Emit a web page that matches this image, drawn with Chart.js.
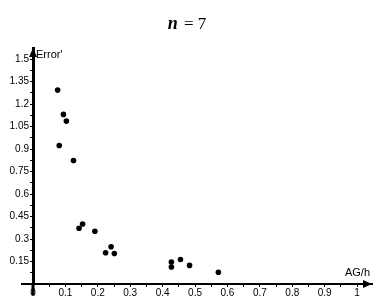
<!DOCTYPE html>
<html>
<head>
<meta charset="utf-8">
<script src="https://cdn.jsdelivr.net/npm/chart.js@4"></script>
<style>
  html, body { margin: 0; padding: 0; background: #fff; }
</style>
</head>
<body>
<canvas id="myChart" width="382" height="307"></canvas>
<script>
// valores
var agh  = [0.076, 0.094, 0.103, 0.081, 0.125, 0.142, 0.153, 0.191, 0.224, 0.241, 0.251, 0.427, 0.427, 0.455, 0.483, 0.572]
var erro = [1.294, 1.132, 1.087, 0.924, 0.824, 0.372, 0.400, 0.352, 0.209, 0.249, 0.203, 0.146, 0.113, 0.164, 0.124, 0.078]

var xTicks = [0, 0.05, 0.1, 0.15, 0.2, 0.25, 0.3, 0.35, 0.4, 0.45, 0.5, 0.55, 0.6, 0.65, 0.7, 0.75, 0.8, 0.85, 0.9, 0.95, 1]
var xTickLabels = ['0', '', '0.1', '', '0.2', '', '0.3', '', '0.4', '', '0.5', '', '0.6', '', '0.7', '', '0.8', '', '0.9', '', '1']
var yTicks = [0.075, 0.15, 0.225, 0.3, 0.375, 0.45, 0.525, 0.6, 0.675, 0.75, 0.825, 0.9, 0.975, 1.05, 1.125, 1.2, 1.275, 1.35, 1.425, 1.5]
var yTickLabels = ['', '0.15', '', '0.3', '', '0.45', '', '0.6', '', '0.75', '', '0.9', '', '1.05', '', '1.2', '', '1.35', '', '1.5']

var pontos = []
for (var i = 0; i < agh.length; i++) {
    pontos.push({ x: agh[i], y: erro[i] })
}

var fonteTick = { family: 'Liberation Sans', size: 10 }

// setas, extensoes dos eixos, rotulos e titulo
var eixos = {
    id: 'eixos',
    afterDraw: function (chart) {
        var ctx = chart.ctx
        var sx = chart.scales.x
        var sy = chart.scales.y
        var x0 = sx.getPixelForValue(0)
        var y0 = sy.getPixelForValue(0)
        var topo = sy.getPixelForValue(sy.max)
        var dir = sx.getPixelForValue(sx.max)
        ctx.save()
        ctx.strokeStyle = '#000'
        ctx.fillStyle = '#000'
        // extensoes alem da origem
        ctx.lineWidth = 2
        ctx.beginPath()
        ctx.moveTo(x0 - 12, y0)
        ctx.lineTo(x0, y0)
        ctx.stroke()
        ctx.lineWidth = 3
        ctx.beginPath()
        ctx.moveTo(x0, y0)
        ctx.lineTo(x0, y0 + 11)
        ctx.stroke()
        // setas
        ctx.beginPath()
        ctx.moveTo(x0, topo)
        ctx.lineTo(x0 - 4, topo + 9)
        ctx.lineTo(x0 + 4, topo + 9)
        ctx.closePath()
        ctx.fill()
        ctx.beginPath()
        ctx.moveTo(dir, y0)
        ctx.lineTo(dir - 9, y0 - 4)
        ctx.lineTo(dir - 9, y0 + 4)
        ctx.closePath()
        ctx.fill()
        // nomes dos eixos
        ctx.font = '11px "Liberation Sans"'
        ctx.textBaseline = 'middle'
        ctx.textAlign = 'left'
        ctx.fillText("Error'", x0 + 3, topo + 7)
        ctx.textAlign = 'right'
        ctx.fillText('AG/h', dir - 2, y0 - 11)
        // titulo
        ctx.textBaseline = 'alphabetic'
        ctx.textAlign = 'left'
        ctx.font = 'italic bold 18px "Liberation Serif"'
        var wn = ctx.measureText('n').width
        ctx.font = '17px "Liberation Serif"'
        var resto = ' = 7'
        var wr = ctx.measureText(resto).width
        var inicio = 186 - (wn + wr) / 2
        ctx.font = 'italic bold 18px "Liberation Serif"'
        ctx.fillText('n', inicio, 29)
        ctx.font = '17px "Liberation Serif"'
        ctx.fillText(resto, inicio + wn + 2, 29)
        ctx.restore()
    }
}

function plotarGrafico() {
    var ctx = document.getElementById('myChart')
    new Chart(ctx, {
        type: 'scatter',
        data: {
            datasets: [{
                data: pontos,
                backgroundColor: '#000',
                borderColor: '#000',
                pointStyle: 'circle',
                pointRadius: 2.8,
                borderWidth: 0
            }]
        },
        options: {
            responsive: false,
            animation: false,
            devicePixelRatio: 1,
            layout: { padding: { top: 48, right: 10, left: 0, bottom: 0 } },
            plugins: {
                legend: { display: false },
                tooltip: { enabled: false }
            },
            scales: {
                x: {
                    type: 'linear',
                    min: 0,
                    max: 1.046,
                    afterBuildTicks: function (scale) {
                        scale.ticks = xTicks.map(function (v) { return { value: v } })
                    },
                    afterFit: function (scale) { scale.height = 23 },
                    grid: { drawOnChartArea: false, drawTicks: true, tickLength: 3, color: '#000' },
                    border: { display: true, color: '#000', width: 2 },
                    ticks: {
                        autoSkip: false,
                        maxRotation: 0,
                        padding: 0,
                        color: '#000',
                        font: fonteTick,
                        callback: function (v, i) { return xTickLabels[i] }
                    }
                },
                y: {
                    type: 'linear',
                    min: 0,
                    max: 1.575,
                    afterBuildTicks: function (scale) {
                        scale.ticks = yTicks.map(function (v) { return { value: v } })
                    },
                    afterFit: function (scale) { scale.width = 33 },
                    grid: { drawOnChartArea: false, drawTicks: true, tickLength: 3, color: '#000' },
                    border: { display: true, color: '#000', width: 3 },
                    ticks: {
                        autoSkip: false,
                        padding: 1,
                        color: '#000',
                        font: fonteTick,
                        callback: function (v, i) { return yTickLabels[i] }
                    }
                }
            }
        },
        plugins: [eixos]
    })
}

plotarGrafico()
</script>
</body>
</html>
